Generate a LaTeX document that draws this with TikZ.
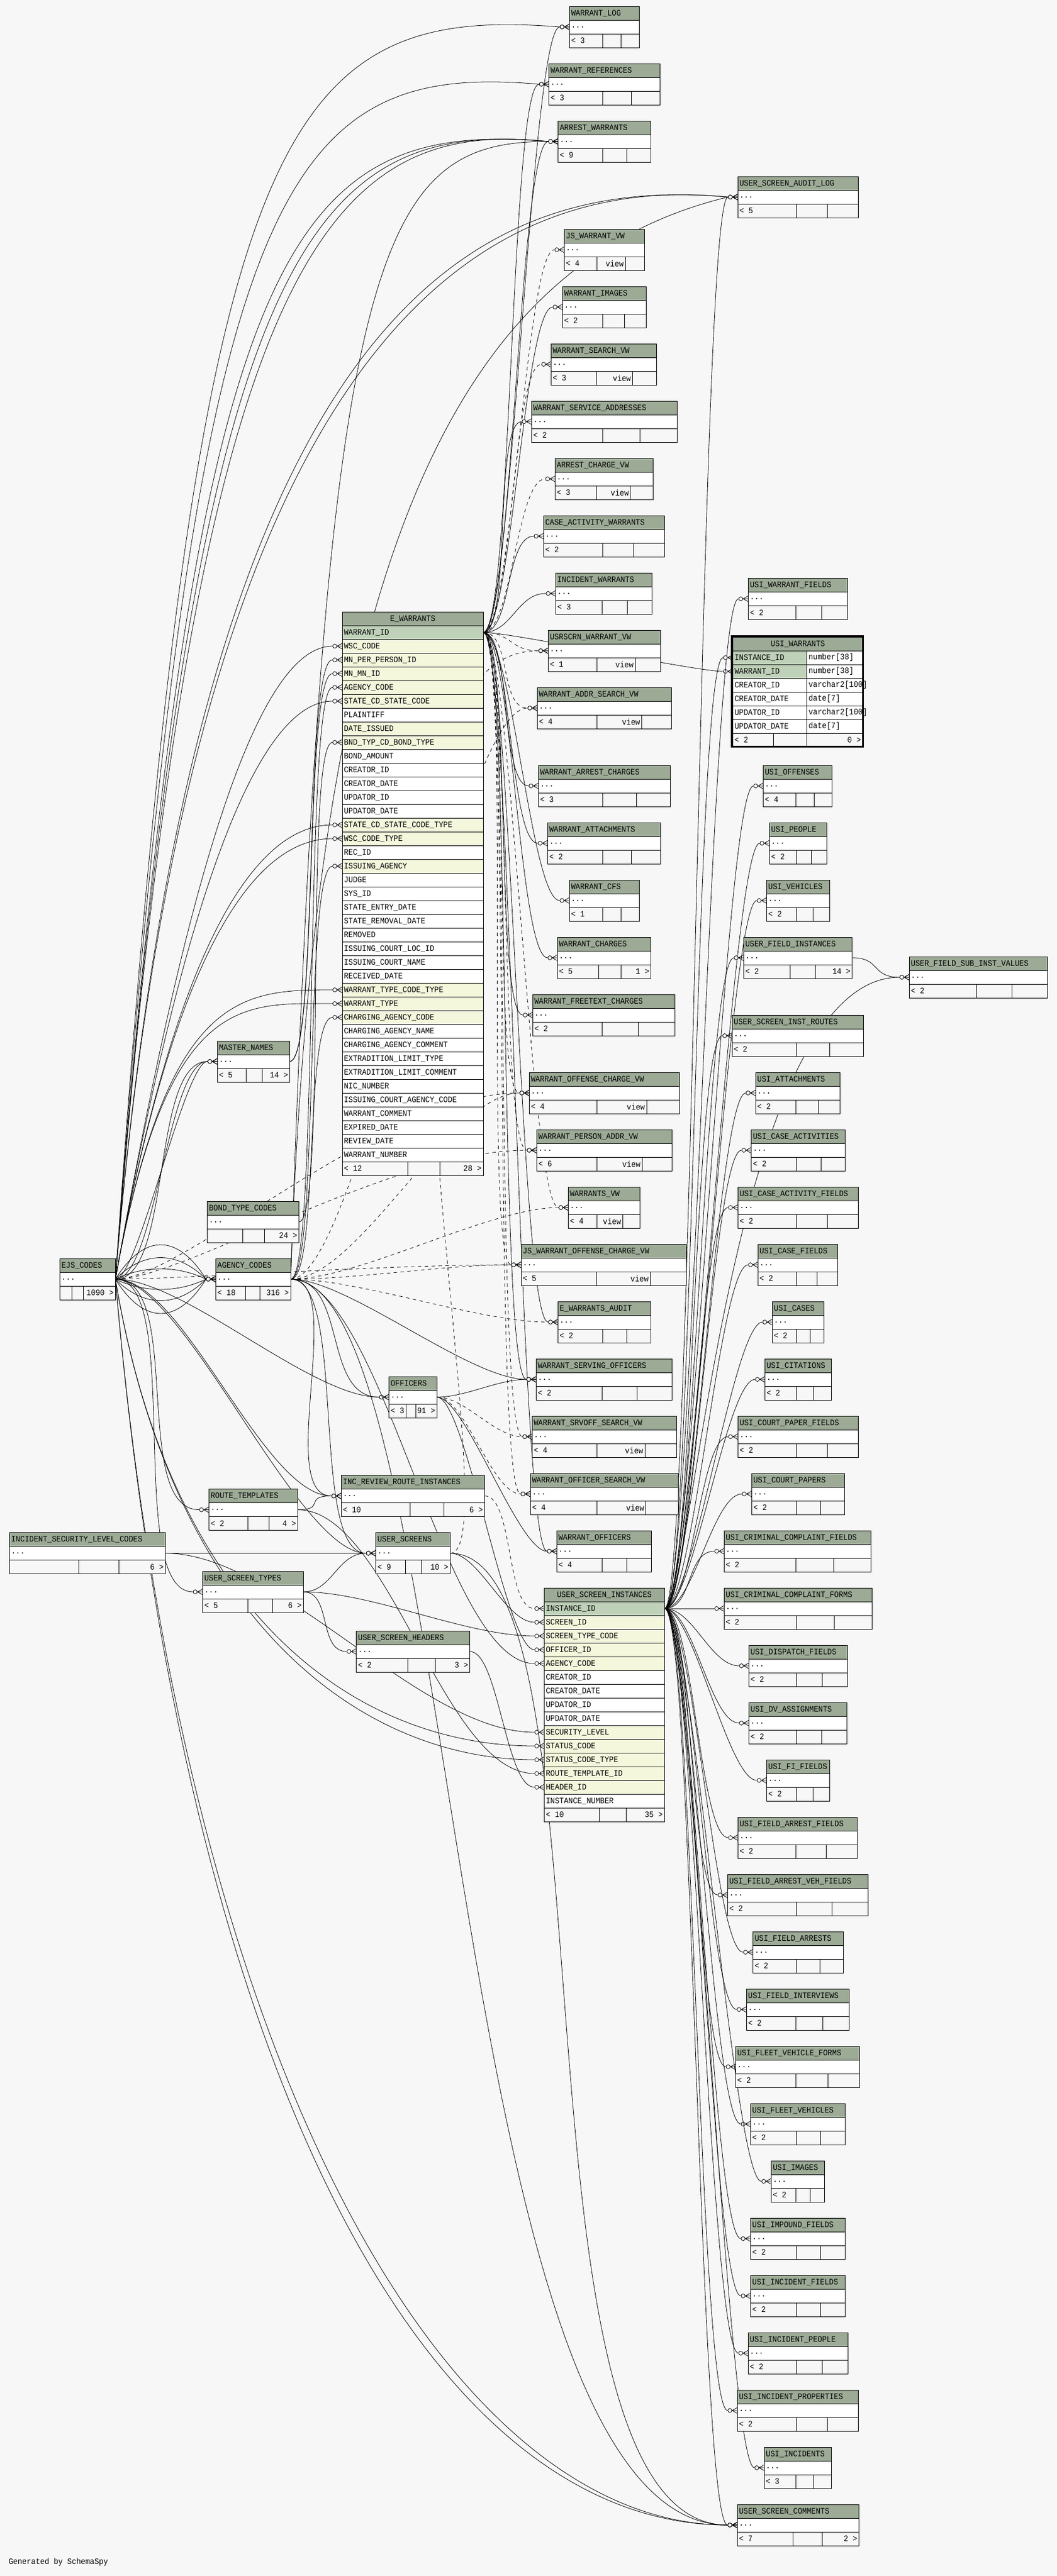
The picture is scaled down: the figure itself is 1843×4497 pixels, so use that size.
\documentclass[tikz,border=0pt]{standalone}
\usepackage{fontspec}
\newfontfamily\tabmono[FakeStretch=0.9]{Liberation Mono}
\pgfdeclarelayer{bg}
\pgfsetlayers{bg,main}
\definecolor{bgc}{HTML}{F7F7F7}
\definecolor{hdc}{HTML}{9CAA96}
\definecolor{pkc}{HTML}{BFD1B9}
\definecolor{ixc}{HTML}{F4F7DC}
\newcommand{\tabfont}{\tabmono\fontsize{7.3}{8}\selectfont}
\tikzset{
  cell/.style={draw, anchor=north west, inner xsep=1.5pt, inner ysep=0pt, outer sep=0pt,
    minimum height=12pt, align=left, font=\tabfont, line width=0.5pt},
  hd/.style={cell, fill=hdc},
  rw/.style={cell, fill=white},
  lbl/.style={inner sep=1.5pt, outer sep=0pt, font=\tabfont},
  od/.store in=\fkod, id/.store in=\fkid, oy/.store in=\fkoy, iy/.store in=\fkiy,
  dd/.style={od=#1, id=#1},
  fkl/.style={line width=0.4pt, od=25pt, id=25pt, oy=0pt, iy=0pt},
}
% one collapsed table: name, x, y, width, title, left, mid, right (dividers in \tbA, \tbB)
\newcommand{\tabcore}[8]{%
  \pgfmathsetmacro\tbw{#4*0.5-3}%
  \node[hd, text width=\tbw pt] (#1) at (#2,#3) {#5};
  \node[rw, text width=\tbw pt] (#1-r) at (#2,#3+24) {...};
  \draw[line width=0.5pt, fill=bgc] (#2,#3+48) rectangle ++(#4,24);
  \draw[line width=0.5pt] (\tbA,#3+48) -- ++(0,24) (\tbB,#3+48) -- ++(0,24);
  \node[lbl, anchor=west] at (#2,#3+60) {#6};
  \node[lbl, anchor=east] at (\tbB,#3+60) {#7};
  \node[lbl, anchor=east] at (#2+#4,#3+60) {#8};
}
\newcommand{\ptab}[6]{\pgfmathsetmacro\tbA{#2+#4/2-3}\pgfmathsetmacro\tbB{(\tbA+#2+#4)/2}%
  \tabcore{#1}{#2}{#3}{#4}{#5}{#6}{}{}}
\newcommand{\vtab}[6]{\pgfmathsetmacro\tbA{#2+#4/2-13}\pgfmathsetmacro\tbB{\tbA+0.6*(#2+#4-\tbA)}%
  \tabcore{#1}{#2}{#3}{#4}{#5}{#6}{view}{}}
\newcommand{\ctab}[9]{\def\tbA{#8}\def\tbB{#9}\tabcore{#1}{#2}{#3}{#4}{#5}{#6}{}{#7}}
% crow's foot with circle at a child row
\newcommand{\crow}[1]{%
  \draw[line width=0.4pt] (#1) ++(-9,0) -- ++(9,-5) ++(-9,5) -- ++(9,0) ++(-9,0) -- ++(9,5);
  \draw[line width=0.4pt, fill=bgc] (#1) ++(-13,0) circle (3.5);
}
\newcommand{\fk}[3][]{\draw[fkl,#1] (#2) .. controls ([shift={(\fkod,\fkoy)}]#2)
  and ([shift={(-\fkid-8.5pt,\fkiy)}]#3) .. ([xshift=-8.5pt]#3); \crow{#3}}
\newcommand{\fkd}[3][]{\fk[dash pattern=on 3pt off 3pt,#1]{#2}{#3}}

\begin{document}
\begin{tikzpicture}[x=0.5pt,y=-0.5pt]
\useasboundingbox (0,0) rectangle (1843,4497);

%%%%% middle column %%%%%
\ptab{wlog}{993.5}{11}{122}{WARRANT\_LOG}{< 3}
\ptab{wref}{957.5}{111}{193.5}{WARRANT\_REFERENCES}{< 3}
\ptab{awar}{973.5}{211}{162}{ARREST\_WARRANTS}{< 9}
\vtab{jswv}{984.3}{400}{140}{JS\_WARRANT\_VW}{< 4}
\ptab{wimg}{981.3}{500}{146}{WARRANT\_IMAGES}{< 2}
\vtab{wsrv}{961.3}{600}{184.4}{WARRANT\_SEARCH\_VW}{< 3}
\ptab{wsad}{927.3}{700}{254.4}{WARRANT\_SERVICE\_ADDRESSES}{< 2}
\vtab{acvw}{968.3}{800}{171}{ARREST\_CHARGE\_VW}{< 3}
\ptab{caw}{948.3}{900}{211.4}{CASE\_ACTIVITY\_WARRANTS}{< 2}
\ptab{iwar}{969.3}{1000}{168.4}{INCIDENT\_WARRANTS}{< 3}
\vtab{uswv}{956.3}{1100}{196.4}{USRSCRN\_WARRANT\_VW}{< 1}
\vtab{wasv}{937.3}{1200}{234.4}{WARRANT\_ADDR\_SEARCH\_VW}{< 4}
\ptab{wach}{939.3}{1336}{230}{WARRANT\_ARREST\_CHARGES}{< 3}
\ptab{watt}{955.3}{1436}{197.4}{WARRANT\_ATTACHMENTS}{< 2}
\ptab{wcfs}{993.3}{1536}{122.4}{WARRANT\_CFS}{< 1}
\ctab{wchg}{972.3}{1636}{163.4}{WARRANT\_CHARGES}{< 5}{1 >}{1044.3}{1083.7}
\ptab{wftc}{929.3}{1736}{248}{WARRANT\_FREETEXT\_CHARGES}{< 2}
\vtab{wocv}{923.3}{1872}{262.4}{WARRANT\_OFFENSE\_CHARGE\_VW}{< 4}
\vtab{wpav}{936.3}{1972}{236.4}{WARRANT\_PERSON\_ADDR\_VW}{< 6}
\vtab{wvw}{991.3}{2072}{125.4}{WARRANTS\_VW}{< 4}
\vtab{jswo}{909}{2172}{288.3}{JS\_WARRANT\_OFFENSE\_CHARGE\_VW}{< 5}
\ptab{ewau}{973.3}{2272}{162.4}{E\_WARRANTS\_AUDIT}{< 2}
\ptab{wsof}{935.3}{2372}{237}{WARRANT\_SERVING\_OFFICERS}{< 2}
\vtab{wssv}{928.3}{2472}{252.4}{WARRANT\_SRVOFF\_SEARCH\_VW}{< 4}
\vtab{wosv}{925.3}{2572}{258.4}{WARRANT\_OFFICER\_SEARCH\_VW}{< 4}
\ptab{woff}{971.3}{2672}{165}{WARRANT\_OFFICERS}{< 4}

%%%%% left side %%%%%
\ctab{mnam}{379}{1817}{126.5}{MASTER\_NAMES}{< 5}{14 >}{429.3}{457.1}
\ctab{btc}{361.5}{2097}{160}{BOND\_TYPE\_CODES}{}{24 >}{423.2}{461.4}
\ctab{ejs}{104.3}{2197}{97}{EJS\_CODES}{}{1090 >}{125.4}{145.7}
\ctab{agc}{376.4}{2197}{130.7}{AGENCY\_CODES}{< 18}{316 >}{428.6}{453.6}
\ctab{offc}{678.5}{2403}{83.8}{OFFICERS}{< 3}{91 >}{708.4}{725.6}
\ctab{irri}{595.3}{2575.5}{250.3}{INC\_REVIEW\_ROUTE\_INSTANCES}{< 10}{6 >}{715.8}{774.4}
\ctab{rtmp}{364.5}{2599.6}{155}{ROUTE\_TEMPLATES}{< 2}{4 >}{432.3}{469.6}
\ctab{uscr}{655.6}{2675.5}{129.7}{USER\_SCREENS}{< 9}{10 >}{707.8}{735.4}
\ctab{islc}{16.6}{2675.5}{272}{INCIDENT\_SECURITY\_LEVEL\_CODES}{}{6 >}{137.8}{207.2}
\ctab{ustp}{353.6}{2743}{175.7}{USER\_SCREEN\_TYPES}{< 5}{6 >}{432.3}{475.9}
\ctab{ushd}{621.7}{2847}{198}{USER\_SCREEN\_HEADERS}{< 2}{3 >}{711.2}{759.5}

%%%%% right column %%%%%
\ptab{usal}{1287}{308}{210.5}{USER\_SCREEN\_AUDIT\_LOG}{< 5}
\ptab{uswf}{1305.3}{1009.3}{173}{USI\_WARRANT\_FIELDS}{< 2}
\ptab{uoff}{1331.3}{1336}{120.3}{USI\_OFFENSES}{< 4}
\ptab{upeo}{1342.3}{1436}{100.2}{USI\_PEOPLE}{< 2}
\ptab{uveh}{1337.4}{1536}{110.3}{USI\_VEHICLES}{< 2}
\ctab{ufi}{1297.3}{1636}{189.5}{USER\_FIELD\_INSTANCES}{< 2}{14 >}{1378.6}{1422.5}
\ptab{ufsv}{1586.2}{1670}{241.3}{USER\_FIELD\_SUB\_INST\_VALUES}{< 2}
\ptab{usir}{1277.2}{1772}{229.6}{USER\_SCREEN\_INST\_ROUTES}{< 2}
\ptab{uatt}{1318.1}{1872}{147.5}{USI\_ATTACHMENTS}{< 2}
\ptab{ucac}{1310.5}{1972}{164.2}{USI\_CASE\_ACTIVITIES}{< 2}
\ptab{ucaf}{1287.4}{2072}{210.3}{USI\_CASE\_ACTIVITY\_FIELDS}{< 2}
\ptab{ucf}{1322.2}{2172}{139.6}{USI\_CASE\_FIELDS}{< 2}
\ptab{ucas}{1347.2}{2272}{90.3}{USI\_CASES}{< 2}
\ptab{ucit}{1334.3}{2372}{116.2}{USI\_CITATIONS}{< 2}
\ptab{ucpf}{1287.4}{2472}{210.3}{USI\_COURT\_PAPER\_FIELDS}{< 2}
\ptab{ucp}{1311.3}{2572}{162.2}{USI\_COURT\_PAPERS}{< 2}
\ptab{uccf}{1263.2}{2672}{256.5}{USI\_CRIMINAL\_COMPLAINT\_FIELDS}{< 2}
\ptab{uccm}{1263.2}{2772}{258.4}{USI\_CRIMINAL\_COMPLAINT\_FORMS}{< 2}
\ptab{udsp}{1306.4}{2872}{172.4}{USI\_DISPATCH\_FIELDS}{< 2}
\ptab{udva}{1306.4}{2972}{171.3}{USI\_DV\_ASSIGNMENTS}{< 2}
\ptab{ufif}{1337.4}{3072}{110.3}{USI\_FI\_FIELDS}{< 2}
\ptab{ufaf}{1287.4}{3172}{208.1}{USI\_FIELD\_ARREST\_FIELDS}{< 2}
\ptab{ufav}{1269.3}{3272}{245.4}{USI\_FIELD\_ARREST\_VEH\_FIELDS}{< 2}
\ptab{ufar}{1313.5}{3372}{158.1}{USI\_FIELD\_ARRESTS}{< 2}
\ptab{ufin}{1302.2}{3472}{179.3}{USI\_FIELD\_INTERVIEWS}{< 2}
\ptab{ufvf}{1283.3}{3572}{216.4}{USI\_FLEET\_VEHICLE\_FORMS}{< 2}
\ptab{ufvh}{1309.4}{3672}{165.3}{USI\_FLEET\_VEHICLES}{< 2}
\ptab{uimg}{1345.3}{3772}{93.3}{USI\_IMAGES}{< 2}
\ptab{uimp}{1309.4}{3872}{165.3}{USI\_IMPOUND\_FIELDS}{< 2}
\ptab{uinf}{1309.4}{3972}{165.3}{USI\_INCIDENT\_FIELDS}{< 2}
\ptab{uinp}{1305.2}{4072}{174.4}{USI\_INCIDENT\_PEOPLE}{< 2}
\ptab{uipr}{1286.3}{4172}{211.4}{USI\_INCIDENT\_PROPERTIES}{< 2}
\ptab{uinc}{1333.2}{4272}{117.3}{USI\_INCIDENTS}{< 3}
\ctab{uscm}{1286.3}{4372}{212.2}{USER\_SCREEN\_COMMENTS}{< 7}{2 >}{1383.5}{1434.6}

%%%%% E_WARRANTS %%%%%
\node[hd, text width=120pt, align=center] (ew) at (597,1068) {E\_WARRANTS};
\foreach \nm/\cl [count=\i] in {WARRANT\_ID/pkc, WSC\_CODE/ixc, MN\_PER\_PERSON\_ID/ixc,
    MN\_MN\_ID/ixc, AGENCY\_CODE/ixc, STATE\_CD\_STATE\_CODE/ixc, PLAINTIFF/white,
    DATE\_ISSUED/ixc, BND\_TYP\_CD\_BOND\_TYPE/ixc, BOND\_AMOUNT/white, CREATOR\_ID/white,
    CREATOR\_DATE/white, UPDATOR\_ID/white, UPDATOR\_DATE/white,
    STATE\_CD\_STATE\_CODE\_TYPE/ixc, WSC\_CODE\_TYPE/ixc, REC\_ID/white,
    ISSUING\_AGENCY/ixc, JUDGE/white, SYS\_ID/white, STATE\_ENTRY\_DATE/white,
    STATE\_REMOVAL\_DATE/white, REMOVED/white, ISSUING\_COURT\_LOC\_ID/white,
    ISSUING\_COURT\_NAME/white, RECEIVED\_DATE/white, WARRANT\_TYPE\_CODE\_TYPE/ixc,
    WARRANT\_TYPE/ixc, CHARGING\_AGENCY\_CODE/ixc, CHARGING\_AGENCY\_NAME/white,
    CHARGING\_AGENCY\_COMMENT/white, EXTRADITION\_LIMIT\_TYPE/white,
    EXTRADITION\_LIMIT\_COMMENT/white, NIC\_NUMBER/white,
    ISSUING\_COURT\_AGENCY\_CODE/white, WARRANT\_COMMENT/white, EXPIRED\_DATE/white,
    REVIEW\_DATE/white, WARRANT\_NUMBER/white}
  \node[rw, fill=\cl, text width=120pt] (ew-\i) at (597,1068+24*\i) {\nm};
\draw[line width=0.5pt, fill=bgc] (597,2028) rectangle (843,2052);
\draw[line width=0.5pt] (711.7,2028) -- (711.7,2052) (767.7,2028) -- (767.7,2052);
\node[lbl, anchor=west] at (597,2040) {< 12};
\node[lbl, anchor=east] at (843,2040) {28 >};

%%%%% USER_SCREEN_INSTANCES %%%%%
\node[hd, text width=102pt, align=center] (usi) at (949.3,2772) {USER\_SCREEN\_INSTANCES};
\foreach \nm/\cl [count=\i] in {INSTANCE\_ID/pkc, SCREEN\_ID/ixc, SCREEN\_TYPE\_CODE/ixc,
    OFFICER\_ID/ixc, AGENCY\_CODE/ixc, CREATOR\_ID/white, CREATOR\_DATE/white,
    UPDATOR\_ID/white, UPDATOR\_DATE/white, SECURITY\_LEVEL/ixc, STATUS\_CODE/ixc,
    STATUS\_CODE\_TYPE/ixc, ROUTE\_TEMPLATE\_ID/ixc, HEADER\_ID/ixc, INSTANCE\_NUMBER/white}
  \node[rw, fill=\cl, text width=102pt] (usi-\i) at (949.3,2772+24*\i) {\nm};
\draw[line width=0.5pt, fill=bgc] (949.3,3156) rectangle (1159.3,3180);
\draw[line width=0.5pt] (1045.7,3156) -- (1045.7,3180) (1092.7,3156) -- (1092.7,3180);
\node[lbl, anchor=west] at (949.3,3168) {< 10};
\node[lbl, anchor=east] at (1159.3,3168) {35 >};

%%%%% USI_WARRANTS %%%%%
\node[hd, text width=110.5pt, align=center] (usiw) at (1278.5,1112) {USI\_WARRANTS};
\foreach \nm/\cl/\ty [count=\i] in {INSTANCE\_ID/pkc/number[38], WARRANT\_ID/pkc/number[38],
    CREATOR\_ID/white/varchar2[100], CREATOR\_DATE/white/date[7],
    UPDATOR\_ID/white/varchar2[100], UPDATOR\_DATE/white/date[7]} {
  \node[rw, fill=\cl, text width=61.5pt] (usiw-\i) at (1278.5,1112+24*\i) {\nm};
  \node[rw, text width=45.75pt] (usiwt-\i) at (1407.5,1112+24*\i) {\ty};
}
\draw[line width=0.5pt, fill=bgc] (1278.5,1280) rectangle (1505,1304);
\draw[line width=0.5pt] (1349.3,1280) -- (1349.3,1304) (1407.5,1280) -- (1407.5,1304);
\node[lbl, anchor=west] at (1278.5,1292) {< 2};
\node[lbl, anchor=east] at (1505,1292) {0 >};
\draw[line width=1.6pt] (1276.9,1110.9) rectangle (1505.1,1303.8);

\node[lbl, anchor=west] (gen) at (12,4473) {Generated by SchemaSpy};

%%%%% connectors %%%%%
\begin{pgfonlayer}{bg}
\fill[bgc] (0,0) rectangle (1843,4497);

% E_WARRANTS
\foreach \tb in {wlog,wref,awar,wimg,wsad,caw,iwar,wach,watt,wcfs,wchg,wftc,ewau,wsof,woff}
  {\fk{ew-1.east}{\tb-r.west}}
\foreach \tb in {jswv,wsrv,acvw,uswv,wasv,wocv,wpav,wvw,jswo,wssv,wosv}
  {\fkd{ew-1.east}{\tb-r.west}}
\fk{ew-1.east}{usiw-2.west}

% USER_SCREEN_INSTANCES
\foreach \tb in {usal,uswf,uoff,upeo,uveh,ufi,usir,uatt,ucac,ucaf,ucf,ucas,ucit,ucpf,ucp,
    uccf,uccm,udsp,udva,ufif,ufaf,ufav,ufar,ufin,ufvf,ufvh,uimg,uimp,uinf,uinp,uipr,uinc,uscm}
  {\fk{usi-1.east}{\tb-r.west}}
\fk{usi-1.east}{usiw-1.west}
\fk[id=150pt]{usi-1.east}{ufsv-r.west}
\fk{ufi-r.east}{ufsv-r.west}

% EJS_CODES
\fk[od=70pt,oy=1000pt,id=250pt,iy=20pt]{ejs-r.east}{wlog-r.west}
\fk[od=70pt,oy=950pt,id=230pt,iy=20pt]{ejs-r.east}{wref-r.west}
\foreach \ds in {190,210,230}
  {\fk[od=70pt,oy=900pt,id=\ds pt,iy=20pt]{ejs-r.east}{awar-r.west}}
\foreach \ds in {200,220}
  {\fk[od=70pt,oy=850pt,id=\ds pt,iy=20pt]{ejs-r.east}{usal-r.west}}
\foreach \n in {2,6,15,16,27,28}
  {\fk[od=45pt,oy=250pt,id=80pt]{ejs-r.east}{ew-\n.west}}
\foreach \ds in {20,35,50} {\fk[dd=\ds pt]{ejs-r.east}{mnam-r.west}}
\foreach \ds in {12,25,40} {
  \fk[oy=\ds pt,iy=\ds pt]{ejs-r.east}{agc-r.west}
  \fk[oy=-\ds pt,iy=-\ds pt]{ejs-r.east}{agc-r.west}
}
\foreach \tb in {offc,rtmp,ustp,uscr,irri} {\fk[dd=60pt]{ejs-r.east}{\tb-r.west}}
\foreach \n in {11,12} {\fk[od=50pt,oy=-300pt,id=150pt]{ejs-r.east}{usi-\n.west}}
\foreach \ds in {240,260}
  {\fk[od=60pt,oy=-700pt,id=\ds pt]{ejs-r.east}{uscm-r.west}}
\foreach \tb in {wocv,wpav,jswo}
  {\fkd[od=60pt,id=120pt]{ejs-r.east}{\tb-r.west}}

% AGENCY_CODES
\foreach \n in {5,18,29} {\fk{agc-r.east}{ew-\n.west}}
\fk[od=30pt,oy=900pt,id=150pt]{agc-r.east}{awar-r.west}
\fk[od=20pt,oy=600pt,id=250pt,iy=-60pt]{agc-r.east}{usal-r.west}
\foreach \tb in {offc,uscr,irri,wsof} {\fk[dd=50pt]{agc-r.east}{\tb-r.west}}
\fk[dd=80pt]{agc-r.east}{usi-5.west}
\fk[od=150pt,id=250pt]{agc-r.east}{uscm-r.west}
\foreach \tb in {wasv,wocv,wvw,jswo,ewau} {\fkd[dd=60pt]{agc-r.east}{\tb-r.west}}

% other parents
\foreach \n in {3,4} {\fk{mnam-r.east}{ew-\n.west}}
\fk{btc-r.east}{ew-9.west}
\foreach \tb in {wsof,woff} {\fk{offc-r.east}{\tb-r.west}}
\fk{offc-r.east}{usi-4.west}
\foreach \tb in {wssv,wosv} {\fkd{offc-r.east}{\tb-r.west}}
\fk{uscr-r.east}{usi-2.west}
\fk[od=150pt,id=200pt]{uscr-r.east}{uscm-r.west}
\fkd[od=60pt,id=200pt]{uscr-r.east}{uswv-r.west}
\fk[dd=60pt]{ustp-r.east}{usi-3.west}
\fk{ustp-r.east}{uscr-r.west}
\fk{ustp-r.east}{ushd-r.west}
\fk[dd=80pt]{rtmp-r.east}{usi-13.west}
\fk{rtmp-r.east}{irri-r.west}
\fk{ushd-r.east}{usi-14.west}
\fk[dd=100pt]{islc-r.east}{usi-10.west}
\fk{islc-r.east}{uscr-r.west}
\fkd{irri-r.east}{usi-1.west}
\end{pgfonlayer}
\end{tikzpicture}
\end{document}
